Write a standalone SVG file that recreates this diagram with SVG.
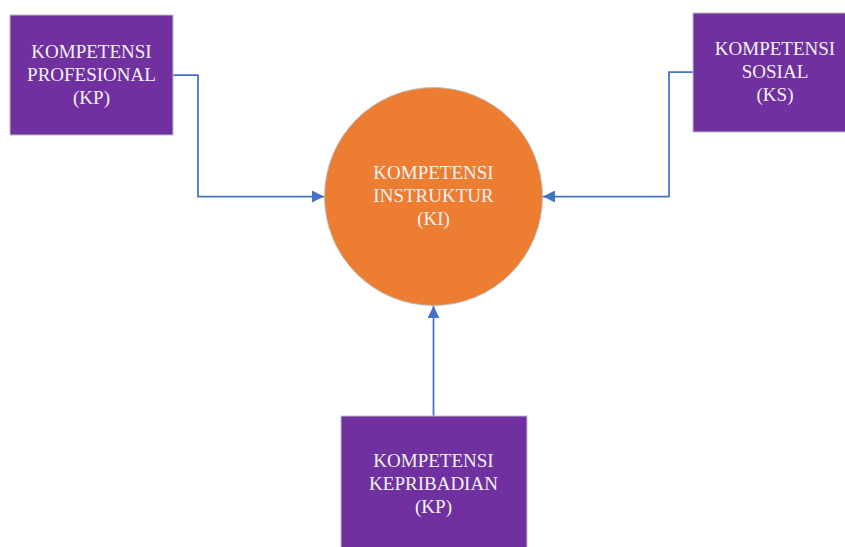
<svg xmlns="http://www.w3.org/2000/svg" width="845" height="547" viewBox="0 0 845 547">
<style>
.box{fill:#7030A0;stroke:#BFBFBF;stroke-width:1}
.t{font-family:"Liberation Serif","Times New Roman",serif;font-size:19px;fill:#F2F2F2;text-anchor:middle}
.c{fill:none;stroke:#4472C4;stroke-width:1.75}
</style>
<defs>
<marker id="ah" markerWidth="12" markerHeight="12" refX="12" refY="6" orient="auto" markerUnits="userSpaceOnUse">
<path d="M0,0 L12,6 L0,12 Z" fill="#4472C4"/>
</marker>
</defs>
<rect width="845" height="547" fill="#FFFFFF"/>
<g id="connectors">
<path class="c" d="M173,75 H198 V196.5 H324" marker-end="url(#ah)"/>
<path class="c" d="M693,72 H669 V196.5 H543" marker-end="url(#ah)"/>
<path class="c" d="M433.5,416 V306" marker-end="url(#ah)"/>
</g>
<g id="ki">
<circle cx="433.5" cy="196.5" r="109" fill="#ED7D31" stroke="#BFBFBF" stroke-width="1"/>
<text class="t" x="433.5" y="179">KOMPETENSI</text>
<text class="t" x="433.5" y="202">INSTRUKTUR</text>
<text class="t" x="433.5" y="225">(KI)</text>
</g>
<g id="kp-profesional">
<rect class="box" x="10" y="15" width="163" height="120"/>
<text class="t" x="91.5" y="58">KOMPETENSI</text>
<text class="t" x="91.5" y="81">PROFESIONAL</text>
<text class="t" x="91.5" y="104">(KP)</text>
</g>
<g id="ks">
<rect class="box" x="693" y="13" width="164" height="119"/>
<text class="t" x="775" y="54.5">KOMPETENSI</text>
<text class="t" x="775" y="77.5">SOSIAL</text>
<text class="t" x="775" y="100.5">(KS)</text>
</g>
<g id="kp-kepribadian">
<rect class="box" x="341" y="416" width="186" height="140"/>
<text class="t" x="433.5" y="467">KOMPETENSI</text>
<text class="t" x="433.5" y="490">KEPRIBADIAN</text>
<text class="t" x="433.5" y="513">(KP)</text>
</g>
</svg>
